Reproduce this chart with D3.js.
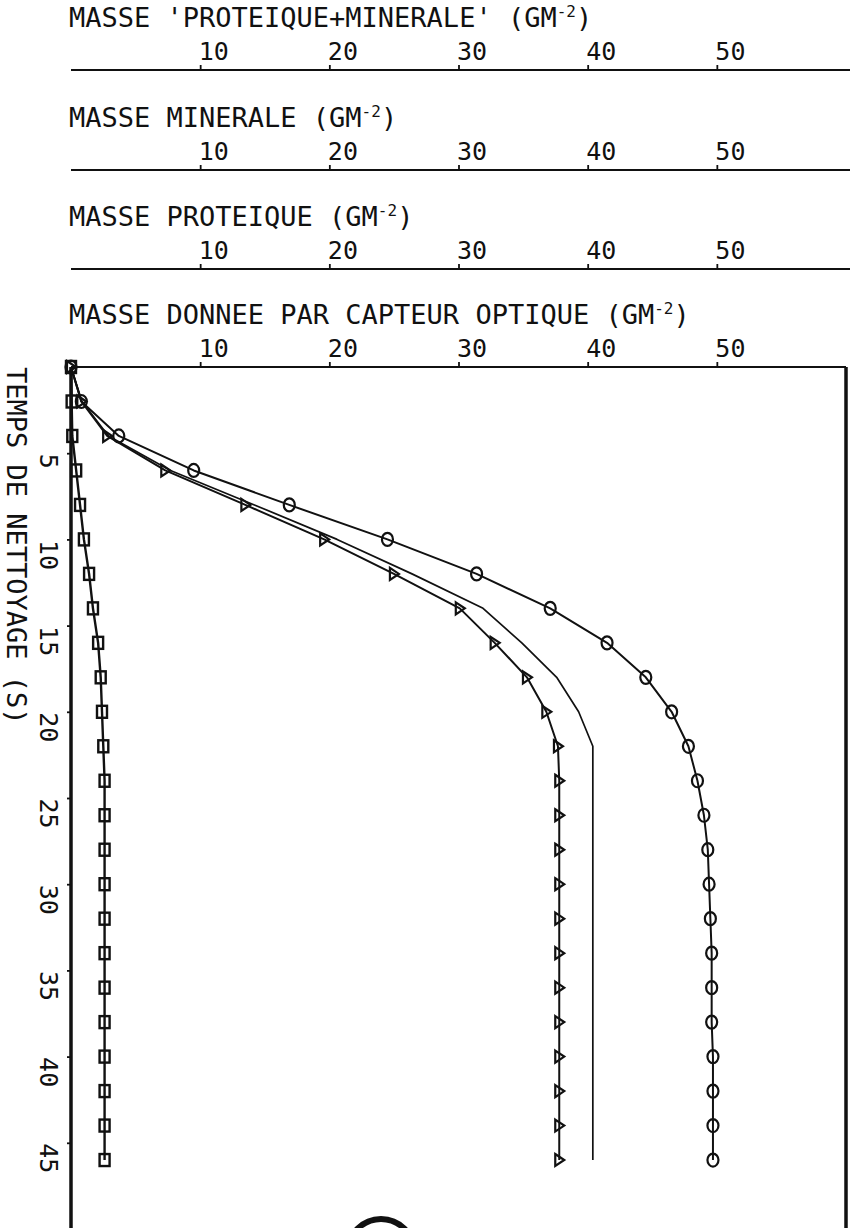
<!DOCTYPE html>
<html><head><meta charset="utf-8">
<script src="https://cdn.jsdelivr.net/npm/d3@7"></script>
<style>body{margin:0;background:#fff}svg{display:block}</style>
</head><body>
<script>
// ---- data ----
const times = [0,2,4,6,8,10,12,14,16,18,20,22,24,26,28,30,32,34,36,38,40,42,44,46];
// circles : masse donnee par capteur optique
const massOptique = [0,0.8,3.7,9.5,16.9,24.5,31.4,37.1,41.5,44.5,46.5,47.8,48.5,49.0,49.3,49.4,49.5,49.6,49.6,49.6,49.7,49.7,49.7,49.7];
// plain line : masse 'proteique+minerale'
const massProtMin = [0,0.85,2.9,7.7,14.2,20.6,26.4,31.9,34.9,37.6,39.3,40.4,40.4,40.4,40.4,40.4,40.4,40.4,40.4,40.4,40.4,40.4,40.4,40.4];
// triangles : masse proteique
const massProteique = [0,0.8,2.8,7.3,13.5,19.6,25.0,30.1,32.8,35.3,36.8,37.7,37.8,37.8,37.8,37.8,37.8,37.8,37.8,37.8,37.8,37.8,37.8,37.8];
// squares : masse minerale
const massMinerale = [0,0.05,0.1,0.4,0.7,1.0,1.4,1.7,2.1,2.3,2.4,2.5,2.6,2.6,2.6,2.6,2.6,2.6,2.6,2.6,2.6,2.6,2.6,2.6];

const xTicks = [10,20,30,40,50];
const yTicks = [5,10,15,20,25,30,35,40,45];
const axisTitles = ["MASSE 'PROTEIQUE+MINERALE' (GM","MASSE MINERALE (GM","MASSE PROTEIQUE (GM","MASSE DONNEE PAR CAPTEUR OPTIQUE (GM"];
const unitSup = "-2";
const yTitle = "TEMPS DE NETTOYAGE (S)";

// ---- layout ----
const W = 851, H = 1228;
const INK = "#111";
const FONT = "'DejaVu Sans Mono', 'Liberation Mono', monospace";
const svg = d3.select("body").append("svg").attr("width", W).attr("height", H);
svg.append("rect").attr("width", W).attr("height", H).attr("fill", "#fff");

const x = d3.scaleLinear().domain([0, 60]).range([71, 846]);
const y = d3.scaleLinear().domain([0, 50]).range([367, 1229]);
const axisYs = [70, 170, 269, 367];

// ---- top axes ----
axisYs.forEach((ay, i) => {
  const g = svg.append("g").attr("transform", `translate(0,${ay})`);
  const ax = d3.axisTop(x).tickValues(xTicks).tickSize(5).tickSizeOuter(0).tickFormat(d3.format("d"));
  g.call(ax);
  g.select(".domain").remove();
  g.append("line").attr("x1", x(0)).attr("x2", i === 3 ? x(60) : 850)
    .attr("y1", 0).attr("y2", 0).attr("stroke", INK).attr("stroke-width", 2);
  g.selectAll(".tick line").attr("stroke", INK).attr("stroke-width", 1.8);
  g.selectAll(".tick text").attr("fill", INK).attr("font-family", FONT).attr("font-size", 25)
    .attr("text-anchor", "start").attr("x", -2).attr("y", -10).attr("dy", 0);
  const t = svg.append("text").attr("x", x(0) - 2).attr("y", ay - 43)
    .attr("font-family", FONT).attr("font-size", 27).attr("fill", INK);
  t.append("tspan").text(axisTitles[i]);
  t.append("tspan").attr("font-size", 16).attr("dy", -10).text(unitSup);
  t.append("tspan").attr("dy", 10).text(")");
});

// ---- plot frame ----
svg.append("line").attr("x1", x(60)).attr("x2", x(60)).attr("y1", y(0)).attr("y2", H)
  .attr("stroke", INK).attr("stroke-width", 3.5);

// ---- left axis ----
const gy = svg.append("g").attr("transform", `translate(${x(0)},0)`);
gy.call(d3.axisLeft(y).tickValues(yTicks).tickSize(4).tickSizeOuter(0).tickFormat(d3.format("d")));
gy.select(".domain").remove();
gy.append("line").attr("x1", 0).attr("x2", 0).attr("y1", y(0)).attr("y2", H)
  .attr("stroke", INK).attr("stroke-width", 3.5);
gy.selectAll(".tick line").attr("stroke", INK).attr("stroke-width", 1.8);
gy.selectAll(".tick text").attr("fill", INK).attr("font-family", FONT).attr("font-size", 25)
  .attr("text-anchor", "start").attr("transform", "rotate(90)")
  .attr("x", 0).attr("y", 31).attr("dy", 0);

svg.append("text").attr("transform", `translate(7,${y(0)}) rotate(90)`)
  .attr("font-family", FONT).attr("font-size", 27).attr("fill", INK).text(yTitle);

// ---- series ----
const line = d3.line().x(d => x(d[1])).y(d => y(d[0]));
const series = [
  {name: "optique", vals: massOptique, marker: "circle", w: 2},
  {name: "protmin", vals: massProtMin, marker: null, w: 1.7},
  {name: "proteique", vals: massProteique, marker: "triangle", w: 2},
  {name: "minerale", vals: massMinerale, marker: "square", w: 2.4}
];
series.forEach(s => {
  const pts = times.map((t, i) => [t, s.vals[i]]);
  svg.append("path").datum(pts).attr("d", line).attr("fill", "none")
    .attr("stroke", INK).attr("stroke-width", s.w).attr("stroke-linejoin", "round");
  if (!s.marker) return;
  const m = svg.append("g").selectAll("g").data(pts).join("g")
    .attr("transform", d => `translate(${x(d[1])},${y(d[0])})`);
  if (s.marker === "circle") {
    m.append("ellipse").attr("rx", 5.5).attr("ry", 6.5).attr("fill", "none")
      .attr("stroke", INK).attr("stroke-width", 2.2);
  } else if (s.marker === "triangle") {
    m.append("path").attr("d", "M-4,-6L5,0L-4,6Z").attr("fill", "none")
      .attr("stroke", INK).attr("stroke-width", 2.2);
  } else {
    m.append("rect").attr("x", -5).attr("y", -6).attr("width", 10).attr("height", 12)
      .attr("fill", "none").attr("stroke", INK).attr("stroke-width", 2.4);
  }
});

// ---- scan artefact: thick arc at the bottom ----
svg.append("circle").attr("cx", 381).attr("cy", 1252).attr("r", 33)
  .attr("fill", "none").attr("stroke", INK).attr("stroke-width", 6);
</script>
</body></html>
